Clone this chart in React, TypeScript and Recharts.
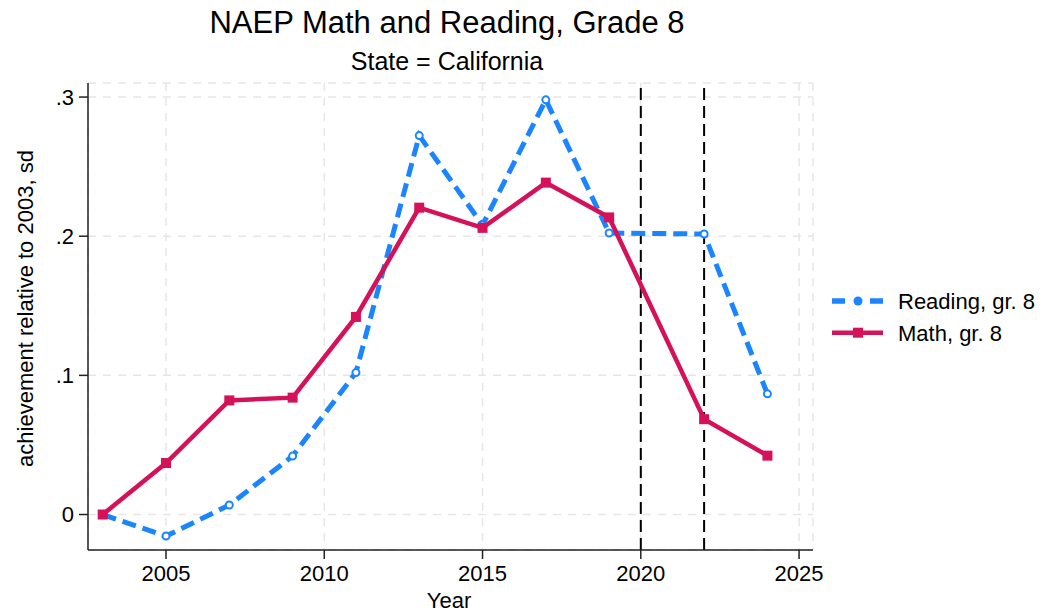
import { CartesianGrid, Legend, Line, LineChart, ReferenceLine, XAxis, YAxis } from "recharts";

const FONT = '"Liberation Sans", Arial, Helvetica, sans-serif';
const BLUE = "#1a85ff";
const RED = "#d41159";

// NAEP grade 8, California, relative to 2003 (sd)
const years = [2003, 2005, 2007, 2009, 2011, 2013, 2015, 2017, 2019, 2022, 2024];
const readingGr8 = [0, -0.0155, 0.0068, 0.042, 0.102, 0.2723, 0.208, 0.298, 0.2023, 0.2016, 0.0867];
const mathGr8 = [0, 0.037, 0.082, 0.084, 0.142, 0.2205, 0.206, 0.2385, 0.2135, 0.0685, 0.0423];

const xTicks = [2005, 2010, 2015, 2020, 2025];
const yTicks = [0, 0.1, 0.2, 0.3];
const markerYears = [2020, 2022];

const data = years.map((year, i) => ({ year, reading: readingGr8[i], math: mathGr8[i] }));

function formatSd(value: number): string {
  if (value === 0) return "0";
  return value.toFixed(1).replace(/^0/, "");
}

function ReadingDot(props: any) {
  const { cx, cy, index } = props;
  if (cx == null || cy == null) return null;
  return <circle key={`r-${index}`} cx={cx} cy={cy} r={3.5} fill="#fff" stroke={BLUE} strokeWidth={2} />;
}

function MathDot(props: any) {
  const { cx, cy, index } = props;
  if (cx == null || cy == null) return null;
  return <rect key={`m-${index}`} x={cx - 5} y={cy - 5} width={10} height={10} fill={RED} />;
}

function renderLegend() {
  return (
    <svg width={224} height={70} style={{ display: "block", overflow: "visible" }}>
      <line x1={12} x2={25} y1={21} y2={21} stroke={BLUE} strokeWidth={5.5} />
      <circle cx={38} cy={21} r={4.5} fill={BLUE} />
      <line x1={50} x2={63} y1={21} y2={21} stroke={BLUE} strokeWidth={5.5} />
      <text x={78} y={28.5} fontSize={22} fontFamily={FONT} fill="#000">
        Reading, gr. 8
      </text>
      <line x1={12} x2={63} y1={52.7} y2={52.7} stroke={RED} strokeWidth={4.5} />
      <rect x={33} y={47.7} width={10} height={10} fill={RED} />
      <text x={78} y={60.5} fontSize={22} fontFamily={FONT} fill="#000">
        Math, gr. 8
      </text>
    </svg>
  );
}

export default function App() {
  const axisLine = { stroke: "#222", strokeWidth: 1.5 };
  const tickStyle = { fill: "#000", fontSize: 22, fontFamily: FONT };

  return (
    <div style={{ position: "absolute", left: 0, top: 0, width: 1044, height: 614, background: "#fff" }}>
      <LineChart
        width={1044}
        height={614}
        data={data}
        margin={{ top: 83, right: 231, bottom: 24, left: 8 }}
      >
        <CartesianGrid stroke="#e6e6e6" strokeWidth={1.5} strokeDasharray="8 7" />
        <XAxis
          dataKey="year"
          type="number"
          domain={[2002.536, 2025.44]}
          ticks={xTicks}
          height={40}
          tick={tickStyle}
          tickSize={9}
          tickMargin={6}
          tickLine={{ stroke: "#222", strokeWidth: 1.5 }}
          axisLine={axisLine}
          allowDataOverflow
        />
        <YAxis
          type="number"
          domain={[-0.0255, 0.3101]}
          ticks={yTicks}
          width={80}
          tick={tickStyle}
          tickSize={9}
          tickMargin={5}
          tickLine={{ stroke: "#222", strokeWidth: 1.5 }}
          axisLine={axisLine}
          tickFormatter={(v) => formatSd(Number(v))}
          allowDataOverflow
        />
        {markerYears.map((yr) => (
          <ReferenceLine key={yr} x={yr} stroke="#000" strokeWidth={2} strokeDasharray="12 6" />
        ))}
        <Legend
          layout="vertical"
          align="center"
          verticalAlign="middle"
          content={renderLegend}
          wrapperStyle={{ left: 820, top: 280, width: 224, height: 70 }}
        />
        <Line
          dataKey="reading"
          name="Reading, gr. 8"
          stroke={BLUE}
          strokeWidth={5}
          strokeDasharray="14 7"
          dot={ReadingDot}
          activeDot={false}
          isAnimationActive={false}
        />
        <Line
          dataKey="math"
          name="Math, gr. 8"
          stroke={RED}
          strokeWidth={4.5}
          dot={MathDot}
          activeDot={false}
          isAnimationActive={false}
        />
      </LineChart>
      <svg
        width={1044}
        height={614}
        style={{ position: "absolute", left: 0, top: 0, pointerEvents: "none" }}
        fontFamily={FONT}
      >
        <text x={447} y={33} textAnchor="middle" fontSize={31} fill="#000">
          NAEP Math and Reading, Grade 8
        </text>
        <text x={447} y={69.5} textAnchor="middle" fontSize={25} fill="#000">
          State = California
        </text>
        <text transform="translate(33,308.5) rotate(-90)" textAnchor="middle" fontSize={22} fill="#000">
          achievement relative to 2003, sd
        </text>
        <text x={449} y={608} textAnchor="middle" fontSize={22} fill="#000">
          Year
        </text>
      </svg>
    </div>
  );
}
